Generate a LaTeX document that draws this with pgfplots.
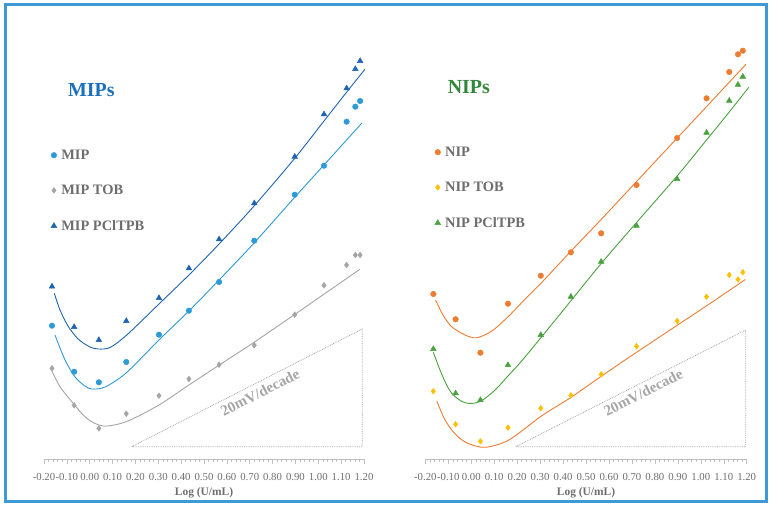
\documentclass[border=0pt]{standalone}
\usepackage{fontspec}
\setmainfont{Liberation Serif}
\usepackage{pgfplots}
\pgfplotsset{compat=1.18}
\definecolor{frameblue}{HTML}{3D9AD6}
\definecolor{mipblue}{HTML}{2E9BD6}
\definecolor{pclblue}{HTML}{1F64B0}
\definecolor{tobgray}{HTML}{A5A5A5}
\definecolor{niporange}{HTML}{ED7D31}
\definecolor{tobyellow}{HTML}{FFC000}
\definecolor{pclgreen}{HTML}{4AA23F}
\definecolor{titleblue}{HTML}{1A6FBF}
\definecolor{titlegreen}{HTML}{33873A}
\definecolor{axgray}{HTML}{BFBFBF}
\definecolor{lblgray}{HTML}{6E6E6E}
\definecolor{annogray}{HTML}{A6A6A6}

\pgfplotsset{
  panel/.style={
    scale only axis, width=320bp, height=420bp,
    xmin=-0.2, xmax=1.2, ymin=49.5, ymax=469.5,
    axis x line*=bottom, axis y line=none, ytick=\empty, clip=false,
    xtick={-0.2,-0.1,0,0.1,0.2,0.3,0.4,0.5,0.6,0.7,0.8,0.9,1.0,1.1,1.2},
    xticklabels={-0.20,-0.10,0.00,0.10,0.20,0.30,0.40,0.50,0.60,0.70,0.80,0.90,1.00,1.10,1.20},
    minor x tick num=4,
    xtick align=outside,
    major tick length=5bp, minor tick length=3bp,
    tick style={color=axgray, line width=0.5bp},
    x axis line style={color=axgray, line width=0.6bp},
    xticklabel style={font=\fontsize{10.8}{12}\selectfont, text=lblgray, yshift=-5bp},
    xlabel={\textbf{Log (U/mL)}},
    xlabel style={font=\fontsize{11.5}{12}\selectfont, text=lblgray, yshift=0bp},
    legend style={draw=none, fill=none, font=\bfseries\fontsize{14.5}{16}\selectfont,
      text=lblgray, row sep=20.2bp, anchor=west, column sep=2.5bp,
      nodes={inner sep=2bp}},
    legend cell align=left,
  },
  mk/.style={only marks, legend image code/.code={\draw[mark repeat=2,mark phase=2] plot coordinates {(0bp,0bp)(3bp,0bp)(6bp,0bp)};}},
  trend/.style={forget plot, smooth, no marks, line width=0.9bp},
}

\begin{document}
\begin{tikzpicture}
\useasboundingbox (0,0) rectangle (774bp,509bp);
\fill[white] (0,0) rectangle (774bp,509bp);

% ---------------- MIPs ----------------
\begin{axis}[panel, at={(44bp,49.5bp)}, anchor=south west,
  legend style={at={(axis cs:-0.183,318.3)}}]
\addplot[mk, mark=*, mark size=2.8bp, color=mipblue] coordinates {
(-0.165,183.3) (-0.068,137.3) (0.040,126.7) (0.160,147) (0.303,174.3) (0.434,198.3) (0.566,227)
(0.720,268.3) (0.897,314.3) (1.025,343.3) (1.124,387.3) (1.162,402.3) (1.183,408)};
\addlegendentry{MIP}
\addplot[mk, mark=diamond*, mark size=2.9bp, color=tobgray] coordinates {
(-0.165,140.7) (-0.068,103.7) (0.040,80.7) (0.160,95.3) (0.303,113.3) (0.434,130) (0.566,144.3)
(0.720,163.7) (0.897,194.3) (1.025,223.7) (1.124,244) (1.162,254) (1.183,254)};
\addlegendentry{MIP TOB}
\addplot[mk, mark=triangle*, mark size=3.3bp, color=pclblue] coordinates {
(-0.165,222.5) (-0.068,182) (0.040,169) (0.160,188) (0.303,211) (0.434,240.7) (0.566,269.7)
(0.720,305.7) (0.897,352.3) (1.025,394.7) (1.124,420.7) (1.162,440) (1.183,448)};
\addlegendentry{MIP PClTPB}
% trendlines
\addplot[trend, color=pclblue] coordinates {
(-0.155,215.7) (-0.130,199) (-0.095,183) (-0.051,170) (0.001,162) (0.0375,160) (0.089,161.5)
(0.162,174) (0.303,205) (0.434,234) (0.566,265) (0.719,303) (0.898,351) (1.025,388) (1.121,416) (1.204,439.7)};
\addplot[trend, color=mipblue] coordinates {
(-0.152,174) (-0.108,149) (-0.064,132) (-0.021,123) (0.010,120) (0.067,122) (0.159,136)
(0.303,169) (0.434,198) (0.566,229) (0.719,266) (0.898,312) (1.025,344) (1.191,386)};
\addplot[trend, color=tobgray] coordinates {
(-0.166,138.3) (-0.130,122.3) (-0.072,105.7) (-0.013,90.7) (0.059,83) (0.159,87.3) (0.303,104)
(0.434,124) (0.567,144) (0.719,166.7) (0.898,194.7) (1.026,215) (1.182,239.7)};
% slope triangle
\addplot[forget plot, color=annogray, densely dotted, line width=0.8bp] coordinates {
(0.1836,62.3) (1.1924,180) (1.1924,62.3) (0.1836,62.3)};
\node[rotate=27, text=annogray, font=\bfseries\fontsize{15}{15}\selectfont] at (axis cs:0.745,116.5) {20mV/decade};
\end{axis}

% ---------------- NIPs ----------------
\begin{axis}[panel, at={(425.3bp,49.5bp)}, anchor=south west, width=321.4bp,
  legend style={at={(axis cs:-0.172,321.3)}}]
\addplot[mk, mark=*, mark size=2.8bp, color=niporange] coordinates {
(-0.165,215) (-0.068,189.7) (0.040,156.3) (0.160,205.3) (0.303,233.3) (0.434,256.7) (0.566,275.7)
(0.720,324) (0.897,371) (1.025,410.7) (1.124,437) (1.162,454.7) (1.183,458.3)};
\addlegendentry{NIP}
\addplot[mk, mark=diamond*, mark size=2.9bp, color=tobyellow] coordinates {
(-0.165,117.7) (-0.068,84.7) (0.040,67.7) (0.160,81.3) (0.303,100.7) (0.434,113.7) (0.566,134.7)
(0.720,162.7) (0.897,188) (1.025,212.3) (1.124,234) (1.162,229.7) (1.183,236.7)};
\addlegendentry{NIP TOB}
\addplot[mk, mark=triangle*, mark size=3.3bp, color=pclgreen] coordinates {
(-0.165,160) (-0.068,115.7) (0.040,109) (0.160,144) (0.303,174) (0.434,212.3) (0.566,247.3)
(0.720,283.3) (0.897,330) (1.025,376.3) (1.124,408.3) (1.162,424.3) (1.183,432.3)};
\addlegendentry{NIP PClTPB}
% trendlines
\addplot[trend, color=niporange] coordinates {
(-0.155,209) (-0.123,194) (-0.085,182.3) (-0.027,174) (0.024,171.3) (0.090,178) (0.164,193)
(0.235,210) (0.305,226) (0.435,258) (0.566,289.5) (0.720,327.4) (0.896,370.7) (1.023,401.8) (1.124,426.8) (1.197,444.7)};
\addplot[trend, color=pclgreen] coordinates {
(-0.165,156.7) (-0.136,139) (-0.105,123) (-0.078,114) (-0.040,107.5) (-0.005,105.5) (0.043,108)
(0.104,119) (0.164,134) (0.214,146.5) (0.306,172) (0.437,209) (0.568,246) (0.722,287) (0.898,333.3)
(1.025,369) (1.124,397) (1.209,421.7)};
\addplot[trend, color=niporange] coordinates {
(-0.150,108) (-0.114,89) (-0.070,75) (-0.018,66) (0.060,61.7) (0.164,69) (0.306,93) (0.437,112)
(0.568,133) (0.722,157) (0.899,184) (1.024,203) (1.124,218.5) (1.194,229.5)};
% slope triangle
\addplot[forget plot, color=annogray, densely dotted, line width=0.8bp] coordinates {
(0.194,62.3) (1.1956,179) (1.1956,62.3) (0.194,62.3)};
\node[rotate=27, text=annogray, font=\bfseries\fontsize{15}{15}\selectfont] at (axis cs:0.749,116.5) {20mV/decade};
\end{axis}

% titles
\node[text=titleblue, font=\bfseries\fontsize{20}{20}\selectfont] at (91.4bp,419.3bp) {MIPs};
\node[text=titlegreen, font=\bfseries\fontsize{20}{20}\selectfont] at (468.8bp,421.7bp) {NIPs};

% frame
\draw[frameblue, line width=3bp] (5bp,7bp) rectangle (766bp,504.3bp);
\end{tikzpicture}
\end{document}
